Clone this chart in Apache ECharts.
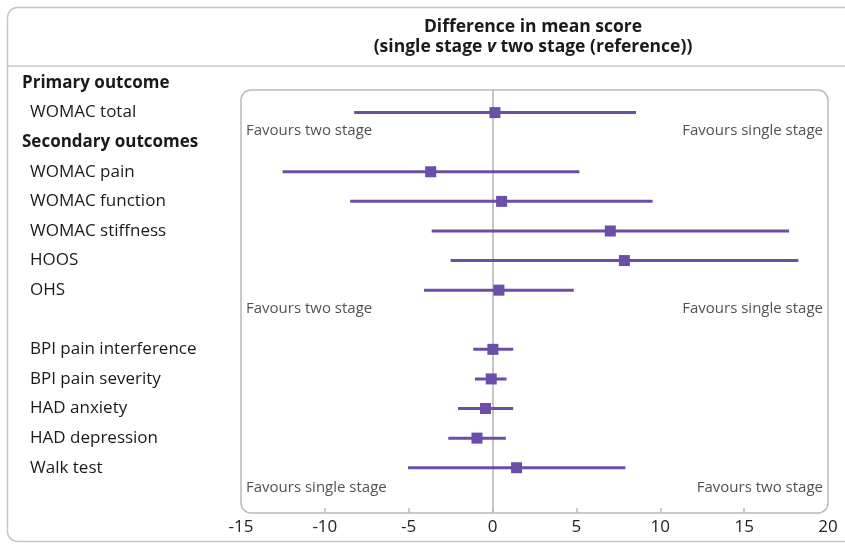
<!DOCTYPE html>
<html>
<head>
<meta charset="utf-8">
<script src="https://cdn.jsdelivr.net/npm/echarts@6/dist/echarts.min.js"></script>
<style>
  html, body { margin: 0; padding: 0; background: #fff; }
  #chart { width: 845px; height: 544px; }
</style>
</head>
<body>
<div id="chart"></div>
<script>
// Row layout of the left-hand label column (row index = y value)
const rowLabels = [
  'Primary outcome', 'WOMAC total', 'Secondary outcomes',
  'WOMAC pain', 'WOMAC function', 'WOMAC stiffness', 'HOOS', 'OHS', '',
  'BPI pain interference', 'BPI pain severity', 'HAD anxiety', 'HAD depression', 'Walk test'
];
const headerRows = [0, 2];

// Outcomes and their estimates: difference in mean score with 95% CI
const outcomes   = ['WOMAC total', 'WOMAC pain', 'WOMAC function', 'WOMAC stiffness', 'HOOS', 'OHS',
                    'BPI pain interference', 'BPI pain severity', 'HAD anxiety', 'HAD depression', 'Walk test'];
const meanDiff   = [0.14, -3.69, 0.54, 7.02, 7.86, 0.38, 0.02, -0.08, -0.42, -0.93, 1.43];
const ciLower    = [-8.25, -12.52, -8.49, -3.63, -2.50, -4.09, -1.15, -1.05, -2.06, -2.64, -5.04];
const ciUpper    = [8.55, 5.18, 9.54, 17.68, 18.23, 4.84, 1.23, 0.83, 1.23, 0.79, 7.92];

// X axis ticks
const xMin = -15, xMax = 20, xStep = 5;
const xInnerTicks = [-10, -5, 0, 5, 10, 15];

// Direction annotations (row position, left text, right text)
const favourRows  = [1.62, 7.62, 13.68];
const favourLeft  = ['Favours two stage', 'Favours two stage', 'Favours single stage'];
const favourRight = ['Favours single stage', 'Favours single stage', 'Favours two stage'];

// Vertical extent of the plot panel in row units
const panelTop = 0.24, panelBottom = 14.53;

const PURPLE = '#6a4ea8';
const FONT = 'Open Sans';

const rowOf = name => rowLabels.indexOf(name);
const ciData = outcomes.map((o, i) => [ciLower[i], ciUpper[i], rowOf(o)]);
const pointData = outcomes.map((o, i) => [meanDiff[i], rowOf(o)]);

const favourData = [];
favourRows.forEach((r, i) => {
  favourData.push({ value: [xMin, r], label: { position: 'right', formatter: favourLeft[i] } });
  favourData.push({ value: [xMax, r], label: { position: 'left', formatter: favourRight[i] } });
});

const chart = echarts.init(document.getElementById('chart'));
chart.setOption({
  animation: false,
  textStyle: { fontFamily: FONT },
  graphic: [
    { type: 'rect', shape: { x: 7.5, y: 7.5, width: 880, height: 534, r: 10 },
      style: { fill: 'none', stroke: '#c6c6c6', lineWidth: 1.5 }, z: 0 },
    { type: 'line', shape: { x1: 7.5, y1: 66, x2: 845, y2: 66 },
      style: { stroke: '#c6c6c6', lineWidth: 1.5 }, z: 0 },
    { type: 'rect', shape: { x: 241, y: 90, width: 587, height: 423, r: 10 },
      style: { fill: 'none', stroke: '#b9b9b9', lineWidth: 1.5 }, z: 0 },
    { type: 'text', x: 533, y: 27,
      style: { text: 'Difference in mean score', font: 'bold 17.5px "Open Sans"', fill: '#1a1a1a',
               align: 'center', verticalAlign: 'middle' } },
    { type: 'text', x: 533, y: 47,
      style: { text: '{n|(single stage }{i|v}{n| two stage (reference))}', align: 'center', verticalAlign: 'middle',
        rich: {
          n: { fontFamily: FONT, fontWeight: 'bold', fontSize: 17.5, fill: '#1a1a1a' },
          i: { fontFamily: FONT, fontWeight: 'bold', fontStyle: 'italic', fontSize: 17.5, fill: '#1a1a1a' }
        } } }
  ],
  grid: { left: 241, right: 17, top: 53.4, bottom: 31 },
  xAxis: {
    type: 'value', min: xMin, max: xMax, interval: xStep,
    axisLine: { show: false, onZero: false },
    axisTick: { show: true, inside: true, length: 5, customValues: xInnerTicks,
                lineStyle: { color: '#b9b9b9', width: 1.5 } },
    splitLine: { show: false },
    axisLabel: { color: '#222', fontSize: 17, margin: 6, fontFamily: FONT }
  },
  yAxis: {
    type: 'value', inverse: true, min: -1, max: panelBottom, interval: 1,
    axisLine: { show: false }, axisTick: { show: false }, splitLine: { show: false },
    axisLabel: {
      showMaxLabel: false, showMinLabel: false,
      align: 'left', margin: 219,
      formatter: v => {
        const label = rowLabels[v];
        if (!label) return '';
        return headerRows.includes(v) ? '{h|' + label + '}' : '{i|' + label + '}';
      },
      rich: {
        h: { fontFamily: FONT, fontWeight: 'bold', fontSize: 17, color: '#1a1a1a' },
        i: { fontFamily: FONT, fontSize: 17, color: '#1a1a1a', padding: [0, 0, 0, 8] }
      }
    }
  },
  series: [
    {
      type: 'custom', name: 'CI',
      data: ciData, z: 3,
      renderItem: (params, api) => {
        const a = api.coord([api.value(0), api.value(2)]);
        const b = api.coord([api.value(1), api.value(2)]);
        return { type: 'line', shape: { x1: a[0], y1: a[1], x2: b[0], y2: b[1] },
                 style: { stroke: PURPLE, lineWidth: 3 } };
      },
      markLine: {
        silent: true, symbol: 'none', z: 1,
        lineStyle: { color: '#b3b3b3', width: 1.5, type: 'solid' },
        label: { show: false },
        data: [[{ coord: [0, panelTop] }, { coord: [0, panelBottom] }]]
      }
    },
    {
      type: 'scatter', name: 'Mean difference',
      data: pointData, symbol: 'rect', symbolSize: 11, z: 4,
      itemStyle: { color: PURPLE, opacity: 1 }
    },
    {
      type: 'scatter', name: 'direction',
      data: favourData, symbolSize: 0, silent: true,
      label: { show: true, color: '#262626', fontSize: 15, fontFamily: FONT, distance: 5 }
    }
  ]
});
</script>
</body>
</html>
